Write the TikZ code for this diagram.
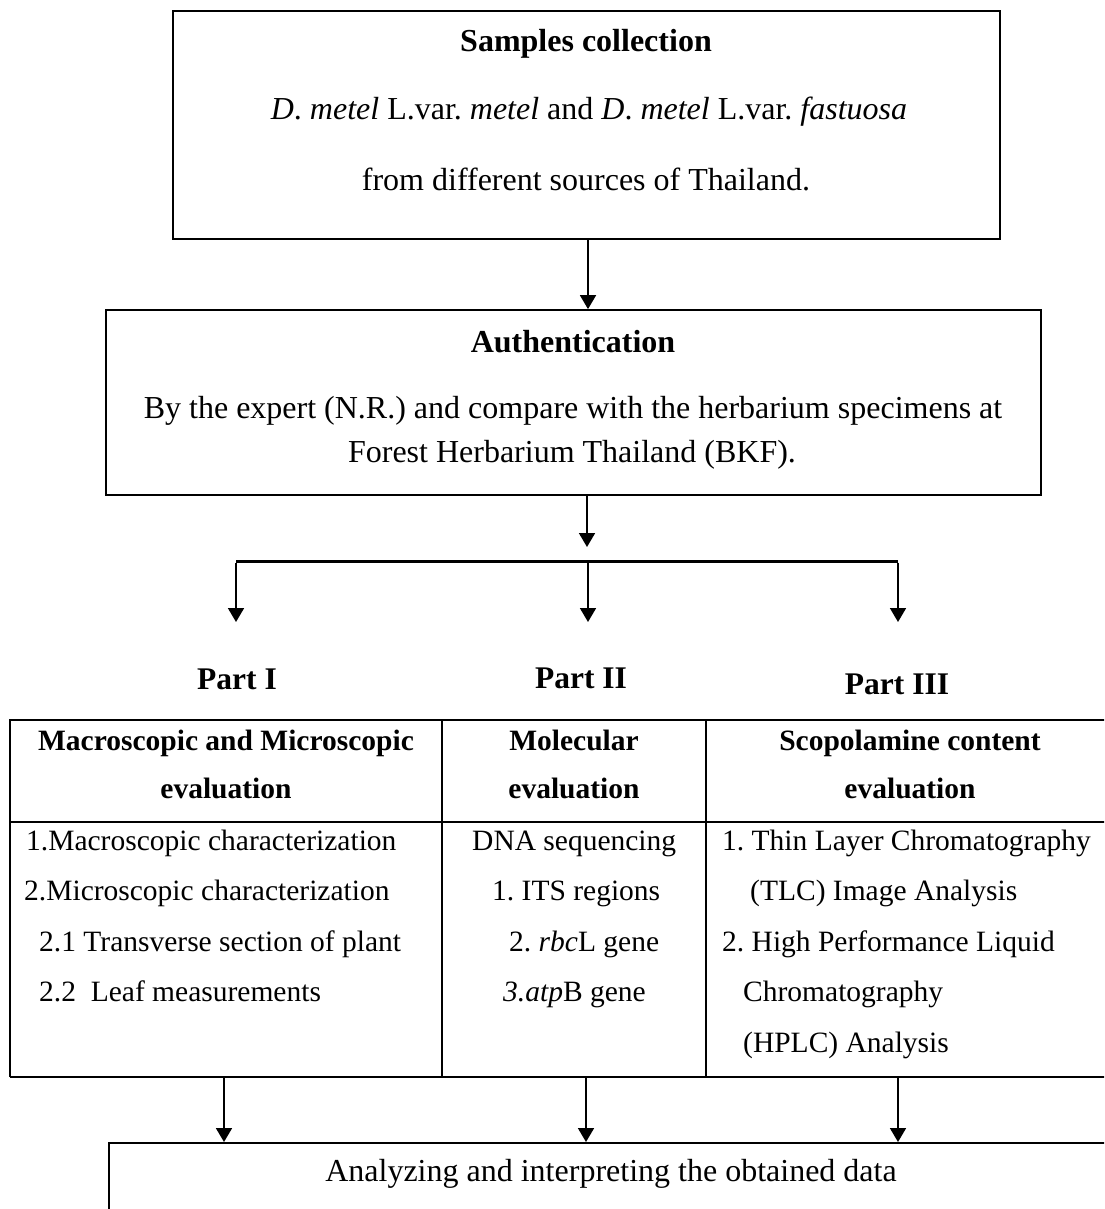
\documentclass[tikz,border=0pt]{standalone}
\usepackage{fontspec}
\setmainfont{Liberation Serif}
\usetikzlibrary{arrows.meta}
\frenchspacing
\tikzset{
  txt/.style={inner sep=0pt, font=\fontsize{29.5}{35}\selectfont\frenchspacing},
  btxt/.style={inner sep=0pt, font=\fontsize{29.5}{35}\selectfont\bfseries\frenchspacing},
  ltxt/.style={inner sep=0pt, font=\fontsize{32}{38}\selectfont\frenchspacing},
  lbtxt/.style={inner sep=0pt, font=\fontsize{32}{38}\selectfont\bfseries\frenchspacing},
  parttxt/.style={inner sep=0pt, font=\fontsize{31.5}{38}\selectfont\bfseries},
  box/.style={draw, line width=1.8pt, inner sep=0pt, fill=none},
  arr/.style={line width=1.8pt, -{Triangle[width=16pt,length=14pt]}},
  barline/.style={line width=3pt},
  tbl/.style={line width=1.7pt},
}
\begin{document}
\begin{tikzpicture}[x=1pt,y=-1pt]
\useasboundingbox (0,0) rectangle (1104,1209);
\fill[white] (0,0) rectangle (1104,1209);
\clip (0,0) rectangle (1104,1209);

% ---- Box 1 ----
\node[box, minimum width=827pt, minimum height=228pt] (box1) at (586.5,125) {};
\node[lbtxt, anchor=base] (t1a) at (586,52) {Samples collection};
\node[ltxt, anchor=base] (t1b) at (589,120) {\textit{D}. \textit{metel} L.var. \textit{metel} and \textit{D}. \textit{metel} L.var. \textit{fastuosa}};
\node[ltxt, anchor=base] (t1c) at (586,190) {from different sources of Thailand.};

% ---- Box 2 ----
\node[box, minimum width=935pt, minimum height=185pt] (box2) at (573.5,402.5) {};
\node[lbtxt, anchor=base] (t2a) at (573,352) {Authentication};
\node[ltxt, anchor=base] (t2b) at (573,418) {By the expert (N.R.) and compare with the herbarium specimens at};
\node[ltxt, anchor=base] (t2c) at (572,462) {Forest Herbarium Thailand (BKF).};

% ---- arrows between boxes ----
\coordinate (x1) at (588,0);
\draw[arr] (box1.south -| x1) -- (box2.north -| x1);
\coordinate (split) at (587,547);
\draw[arr] (box2.south -| split) -- (split);

% ---- branching bar ----
\coordinate (barL) at (236,561);
\coordinate (barM) at (588,561);
\coordinate (barR) at (898,561);
\coordinate (d1) at (236,622);
\coordinate (d2) at (588,622);
\coordinate (d3) at (898,622);
\draw[barline] (barL) -- (barR);
\draw[arr] ([yshift=-1.5pt]barL) -- (d1);
\draw[arr] (barM) -- (d2);
\draw[arr] ([yshift=-1.5pt]barR) -- (d3);

% ---- Part labels ----
\node[parttxt, anchor=base] (p1) at (237,689) {Part I};
\node[parttxt, anchor=base] (p2) at (581,688) {Part II};
\node[parttxt, anchor=base] (p3) at (897,694) {Part III};

% ---- Table ----
\draw[tbl] (10,1077) -- (10,720) -- (1120,720);
\draw[tbl] (10,822) -- (1120,822);
\draw[tbl] (10,1077) -- (1120,1077);
\draw[tbl] (442,720) -- (442,1077);
\draw[tbl] (706,720) -- (706,1077);

% headers
\node[btxt, anchor=base] (h1a) at (226,750) {Macroscopic and Microscopic};
\node[btxt, anchor=base] (h1b) at (226,798) {evaluation};
\node[btxt, anchor=base] (h2a) at (574,750) {Molecular};
\node[btxt, anchor=base] (h2b) at (574,798) {evaluation};
\node[btxt, anchor=base] (h3a) at (910,750) {Scopolamine content};
\node[btxt, anchor=base] (h3b) at (910,798) {evaluation};

% column 1
\node[txt, anchor=base west] (c1a) at (26,850) {1.Macroscopic characterization};
\node[txt, anchor=base west] (c1b) at (24,900.5) {2.Microscopic characterization};
\node[txt, anchor=base west] (c1c) at (39,951) {2.1 Transverse section of plant};
\node[txt, anchor=base west] (c1d) at (39,1001.5) {2.2\ \ Leaf measurements};

% column 2
\node[txt, anchor=base west] (c2a) at (472,850) {DNA sequencing};
\node[txt, anchor=base west] (c2b) at (492,900.5) {1. ITS regions};
\node[txt, anchor=base west] (c2c) at (509,951) {2. \textit{rbc}L gene};
\node[txt, anchor=base west] (c2d) at (503,1001.5) {\textit{3.atp}B gene};

% column 3
\node[txt, anchor=base west] (c3a) at (722,850) {1. Thin Layer Chromatography};
\node[txt, anchor=base west] (c3b) at (750,900.5) {(TLC) Image Analysis};
\node[txt, anchor=base west] (c3c) at (722,951) {2. High Performance Liquid};
\node[txt, anchor=base west] (c3d) at (743,1001.5) {Chromatography};
\node[txt, anchor=base west] (c3e) at (743,1052) {(HPLC) Analysis};

% ---- arrows to final box ----
\node[box, anchor=north west, minimum width=1100pt, minimum height=120pt] (final) at (108,1142) {};
\coordinate (b1) at (224,1077);
\coordinate (b2) at (586,1077);
\coordinate (b3) at (898,1077);
\draw[arr] (b1) -- (b1 |- final.north);
\draw[arr] (b2) -- (b2 |- final.north);
\draw[arr] (b3) -- (b3 |- final.north);
\node[ltxt, anchor=base] (fin) at (611,1181) {Analyzing and interpreting the obtained data};
\end{tikzpicture}
\end{document}
